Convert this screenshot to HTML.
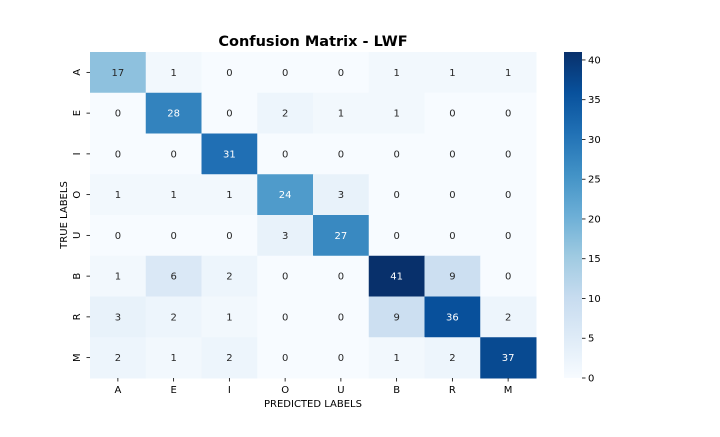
<!DOCTYPE html>
<html><head><meta charset="utf-8"><style>
body{margin:0;background:#fff;}
svg text{font-family:"DejaVu Sans","Liberation Sans",sans-serif;}
</style></head><body>
<svg id="chart" width="720" height="432" xmlns="http://www.w3.org/2000/svg">
<text x="313" y="46" text-anchor="middle" font-size="14.5" font-weight="bold" fill="#000">Confusion Matrix - LWF</text>
<g id="cells"></g>
<g id="axes"></g>
<defs><linearGradient id="cbg" x1="0" y1="1" x2="0" y2="0"></linearGradient></defs>
<rect x="564" y="52" width="18" height="326" fill="url(#cbg)"/>
<g id="cbticks"></g>
<text x="313" y="407" text-anchor="middle" font-size="10">PREDICTED LABELS</text>
<text transform="translate(67,215) rotate(-90)" text-anchor="middle" font-size="10">TRUE LABELS</text>
</svg>
<script>
const labels = ["A","E","I","O","U","B","R","M"];
const matrix = [
[17,1,0,0,0,1,1,1],
[0,28,0,2,1,1,0,0],
[0,0,31,0,0,0,0,0],
[1,1,1,24,3,0,0,0],
[0,0,0,3,27,0,0,0],
[1,6,2,0,0,41,9,0],
[3,2,1,0,0,9,36,2],
[2,1,2,0,0,1,2,37]
];
const cbTicks = [0,5,10,15,20,25,30,35,40];
const vmin = 0, vmax = 41;
const NS="http://www.w3.org/2000/svg";
const stops=["#f7fbff","#deebf7","#c6dbef","#9ecae1","#6baed6","#4292c6","#2171b5","#08519c","#08306b"];
function hex(h){return [1,3,5].map(i=>parseInt(h.substr(i,2),16));}
function cmap(v){let t=(v-vmin)/(vmax-vmin);t=Math.max(0,Math.min(1,t))*8;let i=Math.min(7,Math.floor(t)),f=t-i;
 const a=hex(stops[i]),b=hex(stops[i+1]);return "rgb("+a.map((c,k)=>Math.round(c+(b[k]-c)*f)).join(",")+")";}
const X0=90,X1=536,Y0=52,Y1=378;
const cw=(X1-X0)/labels.length, ch=(Y1-Y0)/labels.length;
const xPos=j=>X0+j*cw, yPos=i=>Y0+i*ch;
const cells=document.getElementById('cells'), axes=document.getElementById('axes');
matrix.forEach((row,i)=>row.forEach((v,j)=>{
 const r=document.createElementNS(NS,'rect');
 r.setAttribute('x',xPos(j));r.setAttribute('y',yPos(i));r.setAttribute('width',cw+0.5);r.setAttribute('height',ch+0.5);
 r.setAttribute('fill',cmap(v));
 
 
 cells.appendChild(r);
 const t=document.createElementNS(NS,'text');
 t.setAttribute('x',xPos(j)+cw/2);t.setAttribute('y',yPos(i)+ch/2+3.5);t.setAttribute('text-anchor','middle');
 t.setAttribute('font-size','10');t.setAttribute('fill',v>=20?'#fff':'#262626');
 t.textContent=v;
 
 
 cells.appendChild(t);
}));
labels.forEach((l,k)=>{
 const tx=document.createElementNS(NS,'text');
 tx.setAttribute('x',xPos(k)+cw/2);tx.setAttribute('y',393);tx.setAttribute('text-anchor','middle');tx.setAttribute('font-size','10');
 tx.textContent=l;
 
 
 axes.appendChild(tx);
 const lx=document.createElementNS(NS,'line');
 lx.setAttribute('x1',xPos(k)+cw/2);lx.setAttribute('x2',xPos(k)+cw/2);lx.setAttribute('y1',Y1);lx.setAttribute('y2',Y1+3.5);lx.setAttribute('stroke','#000');lx.setAttribute('stroke-width','0.8');
 
 
 axes.appendChild(lx);
 const ty=document.createElementNS(NS,'text');
 const cy=yPos(k)+ch/2;
 ty.setAttribute('transform','translate(80,'+cy+') rotate(-90)');ty.setAttribute('text-anchor','middle');ty.setAttribute('font-size','10');
 ty.textContent=l;
 
 
 axes.appendChild(ty);
 const ly=document.createElementNS(NS,'line');
 ly.setAttribute('x1',X0-3.5);ly.setAttribute('x2',X0);ly.setAttribute('y1',cy);ly.setAttribute('y2',cy);ly.setAttribute('stroke','#000');ly.setAttribute('stroke-width','0.8');
 
 
 axes.appendChild(ly);
});
const g=document.getElementById('cbg');
stops.forEach((c,k)=>{const s=document.createElementNS(NS,'stop');s.setAttribute('offset',k/8);s.setAttribute('stop-color',c);g.appendChild(s);});
const cbt=document.getElementById('cbticks');
const cbY=v=>Y1-(v-vmin)/(vmax-vmin)*(Y1-Y0);
cbTicks.forEach(v=>{
 const l=document.createElementNS(NS,'line');
 l.setAttribute('x1',582);l.setAttribute('x2',585.5);l.setAttribute('y1',cbY(v));l.setAttribute('y2',cbY(v));l.setAttribute('stroke','#000');l.setAttribute('stroke-width','0.8');
 
 
 cbt.appendChild(l);
 const t=document.createElementNS(NS,'text');
 t.setAttribute('x',588);t.setAttribute('y',cbY(v)+3.5);t.setAttribute('font-size','10');
 t.textContent=v;
 
 
 cbt.appendChild(t);
});
</script>
</body></html>
